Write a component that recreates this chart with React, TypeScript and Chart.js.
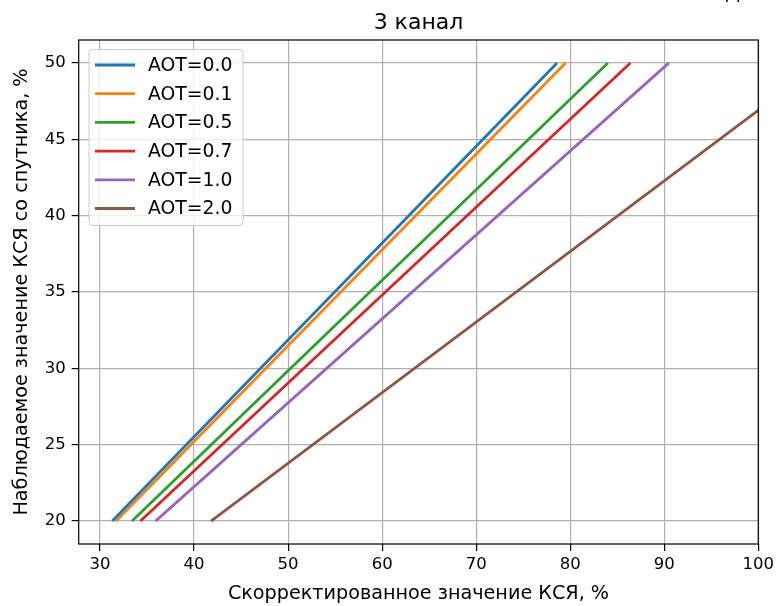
import React, { useEffect, useRef } from 'react';
import { Chart, registerables } from 'chart.js';

Chart.register(...registerables);

// Observed reflectance (y) at the two ends of each line
const observed = [20, 50];

// Corrected reflectance (x) for each aerosol optical thickness
const aot00 = [31.3, 78.6];
const aot01 = [31.7, 79.5];
const aot05 = [33.4, 84.0];
const aot07 = [34.3, 86.4];
const aot10 = [35.9, 90.5];
const aot20 = [41.8, 106.7];

const seriesLabels = ['AOT=0.0', 'AOT=0.1', 'AOT=0.5', 'AOT=0.7', 'AOT=1.0', 'AOT=2.0'];
const seriesValues = [aot00, aot01, aot05, aot07, aot10, aot20];
const seriesColors = ['#1f77b4', '#ff7f0e', '#2ca02c', '#d62728', '#9467bd', '#8c564b'];

const xTicks = [30, 40, 50, 60, 70, 80, 90, 100];
const yTicks = [20, 25, 30, 35, 40, 45, 50];

const titleText = '3 канал';
const xTitle = 'Скорректированное значение КСЯ, %';
const yTitle = 'Наблюдаемое значение КСЯ со спутника, %';

const FONT = '"DejaVu Sans", sans-serif';

// Frame, titles and the boxed legend drawn over the plot
const decorations = {
  id: 'decorations',
  afterDatasetsDraw(chart: any) {
    const { ctx, chartArea } = chart;
    const { left, right, top, bottom } = chartArea;
    ctx.save();

    // axes frame
    ctx.strokeStyle = '#000';
    ctx.lineWidth = 1.2;
    ctx.strokeRect(left, top, right - left, bottom - top);

    // legend box
    const bx = 89, by = 49.5, bw = 154, bh = 176, r = 4;
    ctx.beginPath();
    ctx.moveTo(bx + r, by);
    ctx.arcTo(bx + bw, by, bx + bw, by + bh, r);
    ctx.arcTo(bx + bw, by + bh, bx, by + bh, r);
    ctx.arcTo(bx, by + bh, bx, by, r);
    ctx.arcTo(bx, by, bx + bw, by, r);
    ctx.closePath();
    ctx.fillStyle = 'rgba(255,255,255,0.8)';
    ctx.fill();
    ctx.strokeStyle = '#cccccc';
    ctx.lineWidth = 1;
    ctx.stroke();

    ctx.font = `18.8px ${FONT}`;
    ctx.textBaseline = 'middle';
    ctx.textAlign = 'left';
    chart.data.datasets.forEach((ds: any, i: number) => {
      const yy = 65 + i * 28.7;
      ctx.strokeStyle = ds.borderColor;
      ctx.lineWidth = 2.8;
      ctx.beginPath();
      ctx.moveTo(95, yy);
      ctx.lineTo(135, yy);
      ctx.stroke();
      ctx.fillStyle = '#000';
      ctx.fillText(ds.label, 148, yy + 1);
    });

    // chart title
    ctx.fillStyle = '#000';
    ctx.textAlign = 'center';
    ctx.textBaseline = 'alphabetic';
    ctx.font = `22px ${FONT}`;
    ctx.fillText(titleText, (left + right) / 2, 28.5);

    // cut-off tail of text above the figure
    ctx.textAlign = 'left';
    ctx.fillText('д', 725, -1);

    // axis titles
    ctx.font = `19.2px ${FONT}`;
    ctx.textAlign = 'center';
    ctx.fillText(xTitle, (left + right) / 2, 599);
    ctx.save();
    ctx.translate(22, (top + bottom) / 2);
    ctx.rotate(-Math.PI / 2);
    ctx.textBaseline = 'middle';
    ctx.fillText(yTitle, 0, 0);
    ctx.restore();

    ctx.restore();
  },
};

export default function App() {
  const canvasRef = useRef<HTMLCanvasElement | null>(null);

  useEffect(() => {
    if (!canvasRef.current) return;
    const chart = new Chart(canvasRef.current, {
      type: 'line',
      data: {
        datasets: seriesLabels.map((label, i) => ({
          label,
          data: seriesValues[i].map((x, j) => ({ x, y: observed[j] })),
          borderColor: seriesColors[i],
          backgroundColor: seriesColors[i],
          borderWidth: 2.8,
          pointRadius: 0,
          tension: 0,
          fill: false,
          clip: 0,
        })),
      },
      options: {
        responsive: false,
        animation: false,
        layout: { padding: { left: 0, top: 40, right: 18.7, bottom: 0 } },
        plugins: {
          legend: { display: false },
          title: { display: false },
          tooltip: { enabled: false },
        },
        scales: {
          x: {
            type: 'linear',
            min: 27.73,
            max: 100,
            afterBuildTicks: (scale: any) => {
              scale.ticks = xTicks.map((v) => ({ value: v }));
            },
            afterFit: (scale: any) => {
              scale.height = 62;
            },
            grid: {
              color: '#b0b0b0',
              lineWidth: 1.2,
              drawTicks: true,
              tickLength: 7,
              tickColor: '#000',
              tickWidth: 1.2,
            },
            border: { display: false },
            ticks: {
              color: '#000',
              font: { family: FONT, size: 16.5 },
              padding: 4,
              maxRotation: 0,
              autoSkip: false,
            },
          },
          y: {
            type: 'linear',
            min: 18.5,
            max: 51.5,
            afterBuildTicks: (scale: any) => {
              scale.ticks = yTicks.map((v) => ({ value: v }));
            },
            afterFit: (scale: any) => {
              scale.width = 78.7;
            },
            grid: {
              color: '#b0b0b0',
              lineWidth: 1.2,
              drawTicks: true,
              tickLength: 7,
              tickColor: '#000',
              tickWidth: 1.2,
            },
            border: { display: false },
            ticks: {
              color: '#000',
              font: { family: FONT, size: 16.5 },
              padding: 6,
              autoSkip: false,
            },
          },
        },
      },
      plugins: [decorations],
    });
    return () => chart.destroy();
  }, []);

  return (
    <div style={{ position: 'absolute', left: 0, top: 0, width: 778, height: 606, background: '#fff' }}>
      <canvas ref={canvasRef} width={778} height={606} style={{ display: 'block' }} />
    </div>
  );
}
